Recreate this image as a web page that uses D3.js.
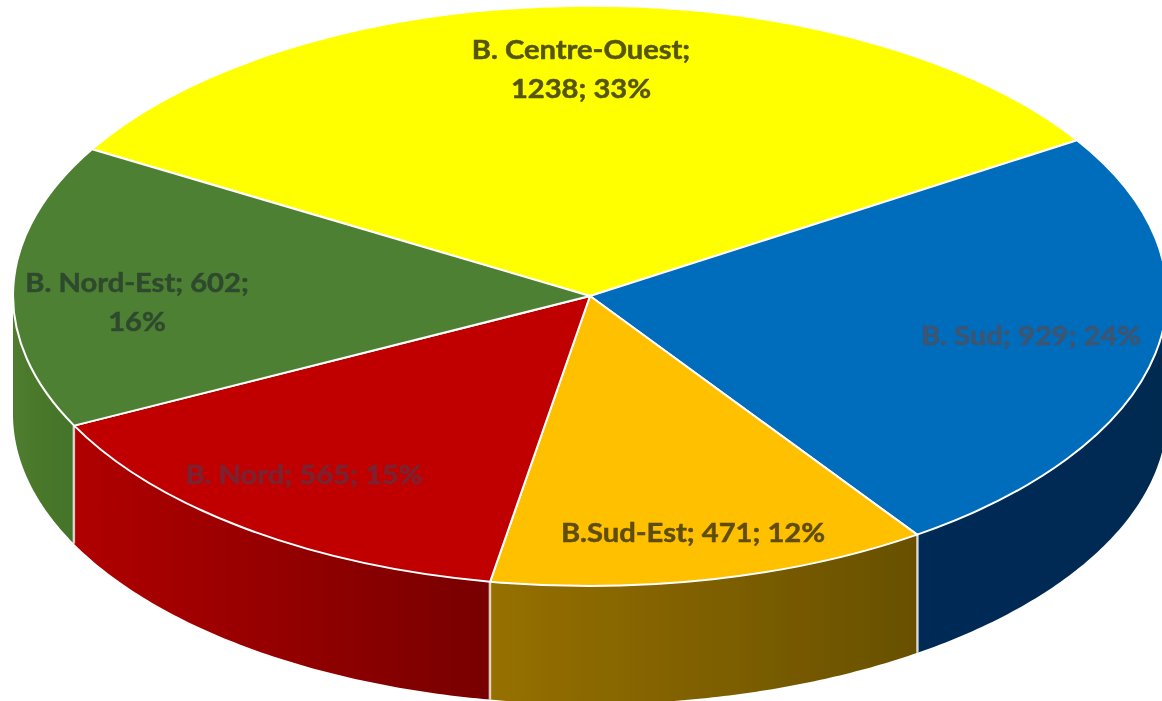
<!DOCTYPE html>
<html lang="fr">
<head>
<meta charset="utf-8">
<script src="https://cdn.jsdelivr.net/npm/d3@7/dist/d3.min.js"></script>
<style>html,body{margin:0;padding:0;background:#fff;overflow:hidden}svg{display:block}</style>
</head>
<body>
<script>
// data
const categories = ["B. Centre-Ouest", "B. Sud", "B.Sud-Est", "B. Nord", "B. Nord-Est"];
const values = [1238, 929, 471, 565, 602];
// after how many label parts the label wraps (0 = single line)
const labelWrap = [1, 0, 0, 0, 2];

// styles
const topColors = ["#ffff00", "#006cbc", "#ffc000", "#c00000", "#4e8030"];
const wallFrom = ["#999900", "#002b57", "#967000", "#b00000", "#4f7c2e"];
const wallTo = ["#999900", "#002a50", "#685000", "#780000", "#437328"];
const labelColors = ["#55550f", "#3d5570", "#5f4d10", "#7a2430", "#2f4a2e"];

// layout
const W = 1162, H = 701;
const cx = 590, cy = 296, rx = 577, ry = 290, depth = 118;
const startDeg = -59.6;
const labelPos = [[581, 49], [1031, 335], [693, 532], [304, 474], [137, 282]];
const lineGap = 39, fontSize = 26.5, textStretch = 1.1;

const total = d3.sum(values);
const pie = d3.pie().sort(null)
  .startAngle(startDeg * Math.PI / 180)
  .endAngle(startDeg * Math.PI / 180 + 2 * Math.PI);
const arcs = pie(values);

const sx = d3.scaleLinear().domain([-1, 1]).range([cx - rx, cx + rx]);
const sy = d3.scaleLinear().domain([-1, 1]).range([cy - ry, cy + ry]);
const px = a => sx(Math.sin(a));
const py = a => sy(-Math.cos(a));

const svg = d3.select("body").append("svg").attr("width", W).attr("height", H)
  .attr("viewBox", `0 0 ${W} ${H}`);
const defs = svg.append("defs");
const softF = defs.append("filter").attr("id", "soft")
  .attr("x", "-5%").attr("y", "-5%").attr("width", "110%").attr("height", "110%");
softF.append("feGaussianBlur").attr("stdDeviation", 0.6);
const softT = defs.append("filter").attr("id", "softText")
  .attr("x", "-5%").attr("y", "-20%").attr("width", "110%").attr("height", "140%");
softT.append("feGaussianBlur").attr("stdDeviation", 0.6);

const root = svg.append("g").attr("filter", "url(#soft)");

// side walls: only the front half of the ellipse is visible
const wallLine = d3.line().x(d => d[0]).y(d => d[1]);
const walls = root.append("g");
const frontA = Math.PI / 2, frontB = 3 * Math.PI / 2;
arcs.forEach((d, i) => {
  const a0 = Math.max(d.startAngle, frontA), a1 = Math.min(d.endAngle, frontB);
  if (a1 <= a0) return;
  const n = 80;
  const as = d3.range(n + 1).map(k => a0 + (a1 - a0) * k / n);
  const upper = as.map(a => [px(a), py(a)]);
  const lower = as.slice().reverse().map(a => [px(a), py(a) + depth]);
  const xs = upper.map(p => p[0]);
  const g = defs.append("linearGradient").attr("id", "wall" + i)
    .attr("gradientUnits", "userSpaceOnUse")
    .attr("x1", d3.min(xs)).attr("x2", d3.max(xs)).attr("y1", 0).attr("y2", 0);
  g.append("stop").attr("offset", 0).attr("stop-color", wallFrom[i]);
  g.append("stop").attr("offset", 1).attr("stop-color", wallTo[i]);
  walls.append("path")
    .attr("d", wallLine(upper.concat(lower)) + "Z")
    .attr("fill", `url(#wall${i})`);
  // vertical seam at each slice boundary that faces the viewer
  if (d.startAngle > frontA && d.startAngle < frontB) {
    walls.append("line")
      .attr("x1", px(d.startAngle)).attr("x2", px(d.startAngle))
      .attr("y1", py(d.startAngle)).attr("y2", py(d.startAngle) + depth)
      .attr("stroke", "#fff").attr("stroke-opacity", 0.75).attr("stroke-width", 2.5);
  }
});

// top face, drawn with d3.arc on a unit circle and flattened to the ellipse
const arc = d3.arc().innerRadius(0).outerRadius(1);
const topFace = root.append("g")
  .attr("transform", `translate(${cx},${cy}) scale(${rx},${ry})`);
topFace.selectAll("path").data(arcs).join("path")
  .attr("d", arc)
  .attr("fill", (d, i) => topColors[i])
  .attr("stroke", "#fff")
  .attr("stroke-width", 2)
  .attr("stroke-linejoin", "round")
  .attr("vector-effect", "non-scaling-stroke");

// labels
const labels = svg.append("g").attr("filter", "url(#softText)")
  .attr("font-family", "Lato, Carlito, sans-serif")
  .attr("font-weight", 700)
  .attr("font-size", fontSize)
  .attr("text-anchor", "middle")
  .attr("dominant-baseline", "central");
categories.forEach((name, i) => {
  const parts = [name, String(values[i]), Math.round(values[i] / total * 100) + "%"];
  const w = labelWrap[i];
  const rows = w ? [parts.slice(0, w).join("; ") + ";", parts.slice(w).join("; ")] : [parts.join("; ")];
  const t = labels.append("text")
    .attr("fill", labelColors[i])
    .attr("stroke", labelColors[i]).attr("stroke-width", 0.5)
    .attr("transform", `translate(${labelPos[i][0]},${labelPos[i][1]}) scale(${textStretch},1)`);
  rows.forEach((r, k) => t.append("tspan")
    .attr("x", 0).attr("y", k * lineGap).text(r));
});
</script>
</body>
</html>
